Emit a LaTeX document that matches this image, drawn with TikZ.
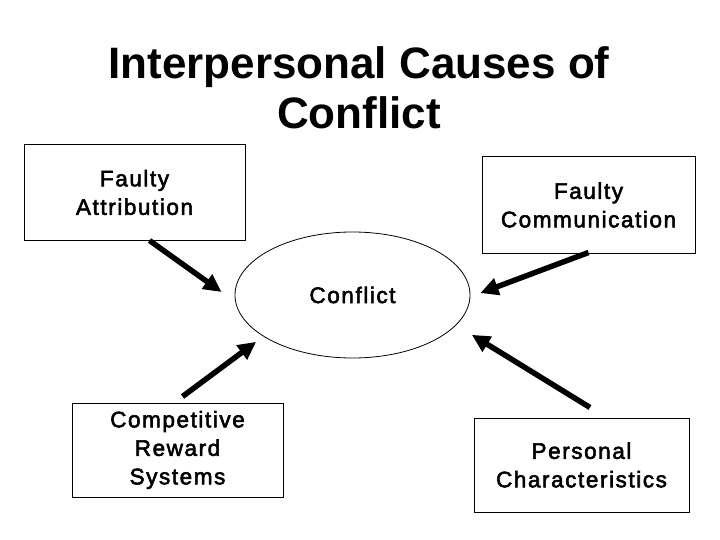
\documentclass[tikz,border=0pt]{standalone}
\usepackage{fontspec}
\setmainfont{Liberation Sans}
\newfontfamily\boxfont[LetterSpace=7,FakeBold=2.5]{Liberation Sans}
\usetikzlibrary{arrows.meta,shapes.geometric,calc}
\begin{document}
\begin{tikzpicture}[x=1pt,y=-1pt,
  box/.style={draw,line width=1pt,inner sep=0pt,align=center,
    font=\boxfont\fontsize{22.5}{28.5}\selectfont},
  arr/.style={line width=5.5pt,-{Triangle[length=18pt,width=17pt]}}]
\useasboundingbox[fill=white] (0,0) rectangle (720,540);
\node[align=center,font=\bfseries\fontsize{44}{50}\selectfont] (title) at (359,88)
  {Interpersonal Causes of\\Conflict};
\node[box,minimum width=221pt,minimum height=95pt] (fa) at (134.5,192.5)
  {Faulty\\Attribution};
\node[box,minimum width=213pt,minimum height=96pt] (fc) at (588.5,205)
  {Faulty\\Communication};
\node[box,minimum width=211pt,minimum height=94pt] (crs) at (177.5,450)
  {Competitive\\Reward\\Systems};
\node[box,minimum width=215pt,minimum height=94pt] (pc) at (581.5,465)
  {Personal\\Characteristics};
\node[ellipse,draw,line width=0.8pt,inner sep=0pt,minimum width=235pt,minimum height=126pt,
  font=\boxfont\fontsize{22.5}{28.5}\selectfont] (conf) at (352.5,295) {Conflict};
\draw[arr] ($(fa.south west)+(126,0)$) -- ($(conf.west)+(-13,-3)$);
\draw[arr] ($(fc.south)+(0,-1)$) -- ($(conf.east)+(10,-2)$);
\draw[arr] ($(crs.north)+(5,-6)$) -- ($(conf.south west)+(-13,2)$);
\draw[arr] ($(pc.north)+(8.5,-10)$) -- ($(conf.south east)+(36,-5)$);
\end{tikzpicture}
\end{document}
